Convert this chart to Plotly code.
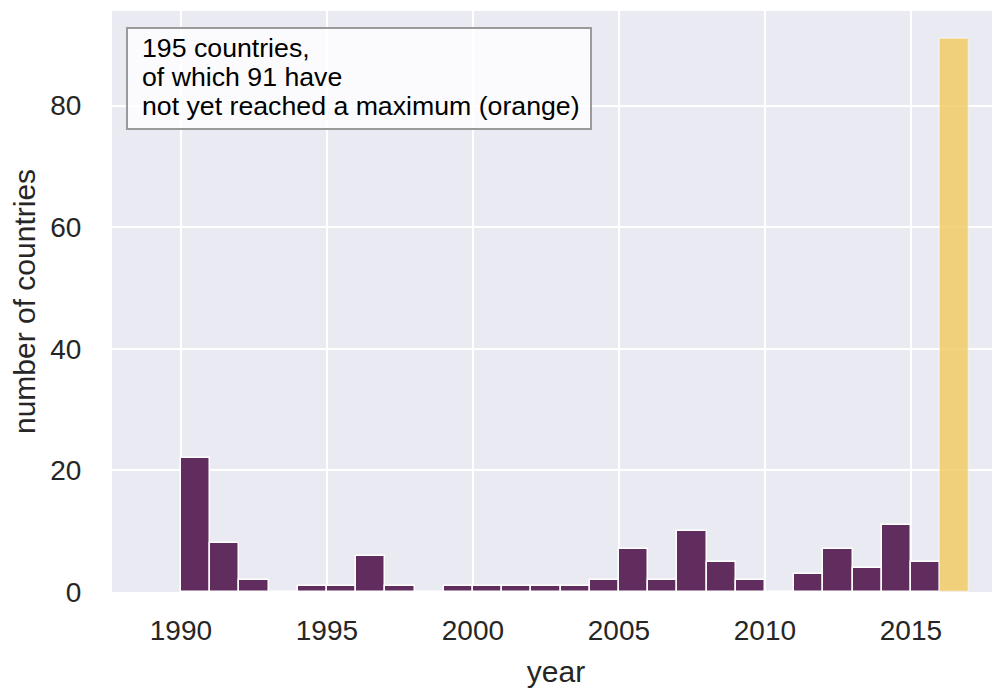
import plotly.graph_objects as go

# data
years_done = list(range(1990, 2016))
counts_done = [22, 8, 2, 0, 1, 1, 6, 1, 0, 1, 1, 1, 1, 1, 2, 7, 2, 10, 5, 2, 0, 3, 7, 4, 11, 5]
years_open = [2016]
counts_open = [91]
x_ticks = [1990, 1995, 2000, 2005, 2010, 2015]
y_ticks = [0, 20, 40, 60, 80]
note_lines = ["195 countries,", "of which 91 have", "not yet reached a maximum (orange)"]

FONT = "Arial, Liberation Sans, Helvetica, sans-serif"
TXT = "#262626"

fig = go.Figure()
fig.add_trace(go.Bar(
    x=years_done, y=counts_done, width=1, offset=0,
    marker=dict(color="#612d5f", line=dict(color="white", width=1.5)),
    showlegend=False, hoverinfo="x+y",
))
fig.add_trace(go.Bar(
    x=years_open, y=counts_open, width=1, offset=0,
    marker=dict(color="rgba(241,201,92,0.8)", line=dict(color="rgba(255,255,255,0.4)", width=1.5)),
    showlegend=False, hoverinfo="x+y",
))

# annotation box (paper coords)
fig.add_shape(
    type="rect", xref="paper", yref="paper",
    x0=0.0169, x1=0.5394, y0=0.7969, y1=0.9707,
    fillcolor="rgba(255,255,255,0.8)", line=dict(color="#9a9a9a", width=2),
    layer="above",
)
line_y = [0.936, 0.886, 0.836]
annos = []
for txt, yy in zip(note_lines, line_y):
    annos.append(dict(
        text=txt, xref="paper", yref="paper",
        x=0.0315, y=yy, xanchor="left", yanchor="middle",
        showarrow=False, align="left",
        font=dict(size=26.7, family=FONT, color="black"),
    ))

fig.update_layout(
    width=992, height=680,
    margin=dict(l=104, r=0, t=3, b=96),
    paper_bgcolor="white",
    plot_bgcolor="#eaeaf2",
    font=dict(family=FONT, color=TXT),
    barmode="overlay",
    bargap=0,
    xaxis=dict(
        range=[1987.64, 2018.05], automargin=False,
        tickmode="array", tickvals=x_ticks,
        ticks="outside", ticklen=13, tickcolor="rgba(0,0,0,0)",
        tickfont=dict(size=28, family=FONT, color=TXT),
        showgrid=True, gridcolor="white", gridwidth=2,
        zeroline=False, showline=False,
        title=dict(text="year", font=dict(size=30, family=FONT, color=TXT), standoff=16),
    ),
    yaxis=dict(
        range=[0, 95.55], automargin=False,
        tickmode="array", tickvals=y_ticks,
        ticks="outside", ticklen=24, tickcolor="rgba(0,0,0,0)",
        tickfont=dict(size=28, family=FONT, color=TXT),
        showgrid=True, gridcolor="white", gridwidth=2,
        zeroline=False, showline=False,
        title=dict(text="number of countries", font=dict(size=30, family=FONT, color=TXT), standoff=21),
    ),
    annotations=annos,
)

fig.write_html("out.html")
